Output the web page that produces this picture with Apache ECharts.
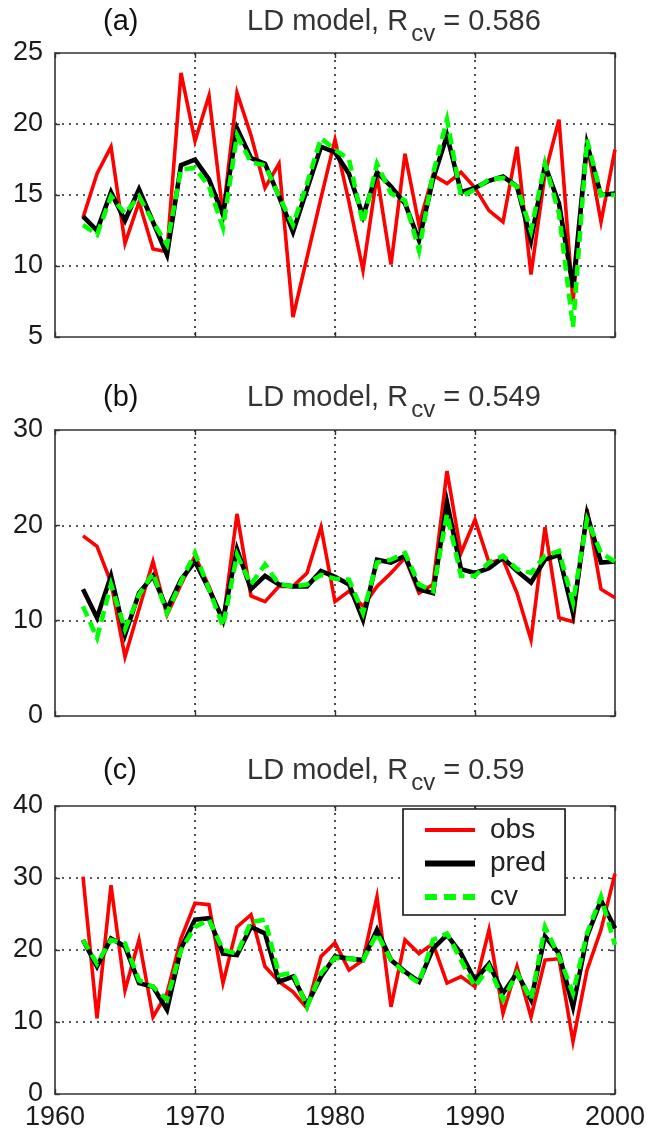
<!DOCTYPE html>
<html>
<head>
<meta charset="utf-8">
<script src="https://cdn.jsdelivr.net/npm/echarts@6/dist/echarts.min.js"></script>
<style>
html,body{margin:0;padding:0;background:#fff;}
#chart{width:649px;height:1137px;}
</style>
</head>
<body>
<div id="chart"></div>
<script>
// ---- data ----
const years = [1962,1963,1964,1965,1966,1967,1968,1969,1970,1971,1972,1973,1974,1975,1976,1977,1978,1979,1980,1981,1982,1983,1984,1985,1986,1987,1988,1989,1990,1991,1992,1993,1994,1995,1996,1997,1998,1999,2000];

const obsA  = [13.4,16.5,18.4,11.6,14.5,11.2,11.0,23.6,18.8,22.0,13.6,22.2,19.2,15.5,17.2,6.4,10.6,14.8,18.9,14.5,9.7,16.4,10.1,17.9,12.9,16.4,15.8,16.6,15.5,13.9,13.1,18.4,9.4,16.5,20.3,7.5,18.6,13.1,18.2];
const predA = [13.5,12.5,15.2,13.2,15.4,13.1,10.8,17.1,17.5,16.1,13.6,19.7,17.6,17.2,14.9,12.4,15.4,18.4,18.0,16.5,13.5,16.6,15.6,14.4,11.8,16.1,19.2,15.2,15.5,16.0,16.3,15.6,11.8,17.1,14.4,8.5,18.6,15.0,15.1];
const cvA   = [12.9,12.2,14.9,13.7,14.9,13.1,11.5,16.8,16.9,15.6,12.7,19.2,17.3,17.1,14.9,12.9,15.8,19.0,18.2,17.5,13.0,17.2,15.1,14.6,11.1,16.5,20.3,14.9,15.4,16.1,16.2,15.6,12.5,17.2,13.7,5.7,18.9,15.0,15.0];

const obsB  = [18.9,17.8,14.0,6.2,11.2,16.2,10.6,13.8,16.8,13.6,9.9,21.2,12.6,12.0,13.6,13.6,15.0,19.8,12.0,13.1,11.5,13.6,15.0,16.6,12.9,13.8,25.7,17.1,20.6,16.1,16.4,12.9,8.0,19.8,10.3,9.9,21.7,13.3,12.4];
const predB = [13.3,10.3,14.7,8.5,12.9,14.7,11.2,14.3,16.2,13.3,10.1,17.5,13.3,14.7,13.8,13.6,13.6,15.2,14.6,13.8,10.1,16.4,16.1,16.8,13.3,12.9,22.4,15.4,15.0,15.5,16.6,15.2,14.0,16.4,16.9,10.8,21.2,16.1,16.2];
const cvB   = [11.5,8.2,13.8,9.1,12.7,15.0,10.8,14.1,17.1,13.3,9.4,16.9,13.8,15.9,13.8,13.6,13.8,14.8,14.4,14.3,10.8,16.1,16.4,17.1,13.8,13.1,21.2,14.7,14.7,16.1,16.8,15.4,15.0,16.8,17.3,11.9,20.6,17.1,16.2];

const obsC  = [30.2,10.5,29.0,14.4,21.4,10.7,14.0,21.6,26.5,26.3,15.4,23.2,24.9,17.7,15.6,14.2,11.9,19.1,21.0,17.2,18.6,27.4,12.1,21.4,19.5,20.9,15.4,16.3,14.9,22.8,11.2,17.7,10.7,18.6,18.8,7.3,17.2,22.8,30.6];
const predC = [21.4,17.7,21.6,20.5,15.4,14.9,11.7,20.2,24.2,24.4,19.5,19.3,23.2,22.3,15.6,16.3,12.4,16.3,19.1,18.8,18.6,22.8,18.6,17.0,15.6,20.2,22.1,19.5,15.8,18.1,14.0,16.8,13.1,21.9,19.5,12.1,21.9,26.9,23.0];
const cvC   = [21.4,18.1,21.4,20.9,15.8,14.9,13.1,20.0,23.2,24.2,20.0,19.5,23.9,24.2,16.5,16.8,12.1,16.8,18.9,18.8,18.6,22.3,18.6,16.8,15.4,21.4,22.3,18.6,14.9,17.7,13.1,16.8,13.1,23.2,19.1,14.0,22.3,27.4,20.7];

const panelLabels = ['(a)','(b)','(c)'];
const rcvValues = ['0.586','0.549','0.59'];
const seriesNames = ['obs','pred','cv'];
const yRanges = [[5,25,5],[0,30,10],[0,40,10]];
const xRange = [1960,2000,10];

// ---- layout / style ----
const FONT = '"Liberation Sans", Arial, Helvetica, sans-serif';
const grids = [
  {left:55, top:53, width:560, height:284},
  {left:55, top:430, width:560, height:286},
  {left:55, top:806, width:560, height:288}
];
const titleTops = [7, 383, 756];
const panelData = [[obsA,predA,cvA],[obsB,predB,cvB],[obsC,predC,cvC]];

const styles = [
  {color:'#ff0000', width:3.6, type:'solid'},
  {color:'#000000', width:4.6, type:'solid'},
  {color:'#00ff00', width:4.6, type:[11,6]}
];

const axisLine = {show:true, onZero:false, lineStyle:{color:'#333', width:1.6}};
const gridDots = {show:true, showMinLine:false, showMaxLine:false, lineStyle:{color:'#222', width:1.6, type:[2,5]}};
const plain = v => String(v);

const xAxes = [], yAxes = [], series = [], titles = [];
grids.forEach((g, gi) => {
  const last = gi === 2;
  xAxes.push({
    type:'value', gridIndex:gi, min:xRange[0], max:xRange[1], interval:xRange[2], position:'bottom',
    axisLine, axisTick:{show:true, inside:true, length:5, lineStyle:{color:'#333', width:1.4}},
    axisLabel:{show:last, fontSize:27, fontFamily:FONT, color:'#1a1a1a', margin:10, formatter:plain},
    splitLine:gridDots
  });
  xAxes.push({
    type:'value', gridIndex:gi, min:xRange[0], max:xRange[1], interval:xRange[2], position:'top',
    axisLine, axisTick:{show:true, inside:true, length:5, lineStyle:{color:'#333', width:1.4}},
    axisLabel:{show:false}, splitLine:{show:false}
  });
  const yr = yRanges[gi];
  yAxes.push({
    type:'value', gridIndex:gi, min:yr[0], max:yr[1], interval:yr[2], position:'left',
    axisLine, axisTick:{show:true, inside:true, length:5, lineStyle:{color:'#333', width:1.4}},
    axisLabel:{show:true, fontSize:27, fontFamily:FONT, color:'#1a1a1a', margin:12, formatter:plain},
    splitLine:gridDots
  });
  yAxes.push({
    type:'value', gridIndex:gi, min:yr[0], max:yr[1], interval:yr[2], position:'right',
    axisLine, axisTick:{show:true, inside:true, length:5, lineStyle:{color:'#333', width:1.4}},
    axisLabel:{show:false}, splitLine:{show:false}
  });
  panelData[gi].forEach((arr, si) => {
    series.push({
      name: seriesNames[si], type:'line', xAxisIndex:2*gi, yAxisIndex:2*gi,
      data: years.map((y,i) => [y, arr[i]]),
      symbol:'none', animation:false, silent:true, z: 2+si,
      lineStyle:{color:styles[si].color, width:styles[si].width, type:styles[si].type, join:'miter', miterLimit:6},
      itemStyle:{color:styles[si].color}
    });
  });
  titles.push({
    text: panelLabels[gi], left:103, top:titleTops[gi], padding:0,
    textStyle:{fontSize:29, lineHeight:30, fontFamily:FONT, color:'#111', fontWeight:'normal'}
  });
  titles.push({
    text: '{n|LD model, R}{s|cv}{n| = ' + rcvValues[gi] + '}', left:247, top:titleTops[gi], padding:0,
    textStyle:{
      fontSize:29, fontFamily:FONT, color:'#333', fontWeight:'normal',
      rich:{
        n:{fontSize:29, lineHeight:30, verticalAlign:'top', fontFamily:FONT, color:'#333'},
        s:{fontSize:24, lineHeight:54, fontFamily:FONT, color:'#333', padding:[0,0,0,3]}
      }
    }
  });
});

const chart = echarts.init(document.getElementById('chart'), null, {renderer:'canvas'});
chart.setOption({
  backgroundColor:'#fff',
  animation:false,
  title: titles,
  grid: grids.map(g => Object.assign({containLabel:false}, g)),
  xAxis: xAxes,
  yAxis: yAxes,
  legend: {
    orient:'vertical', left:403, top:809, padding:[6,19,3,19], itemGap:3.5,
    itemWidth:50, itemHeight:30, selectedMode:false,
    backgroundColor:'#fff', borderColor:'#111', borderWidth:1.6, borderRadius:0,
    textStyle:{fontSize:28, lineHeight:30, fontFamily:FONT, color:'#222', padding:[0,0,0,10]},
    itemStyle:{opacity:0},
    data: [
      {name:'obs', lineStyle:{width:4}, itemStyle:{opacity:0}},
      {name:'pred', lineStyle:{width:6}, itemStyle:{opacity:0}},
      {name:'cv', lineStyle:{width:6, type:[12,7]}, itemStyle:{opacity:0}}
    ],
    z: 20
  },
  series: series
});
</script>
</body>
</html>
